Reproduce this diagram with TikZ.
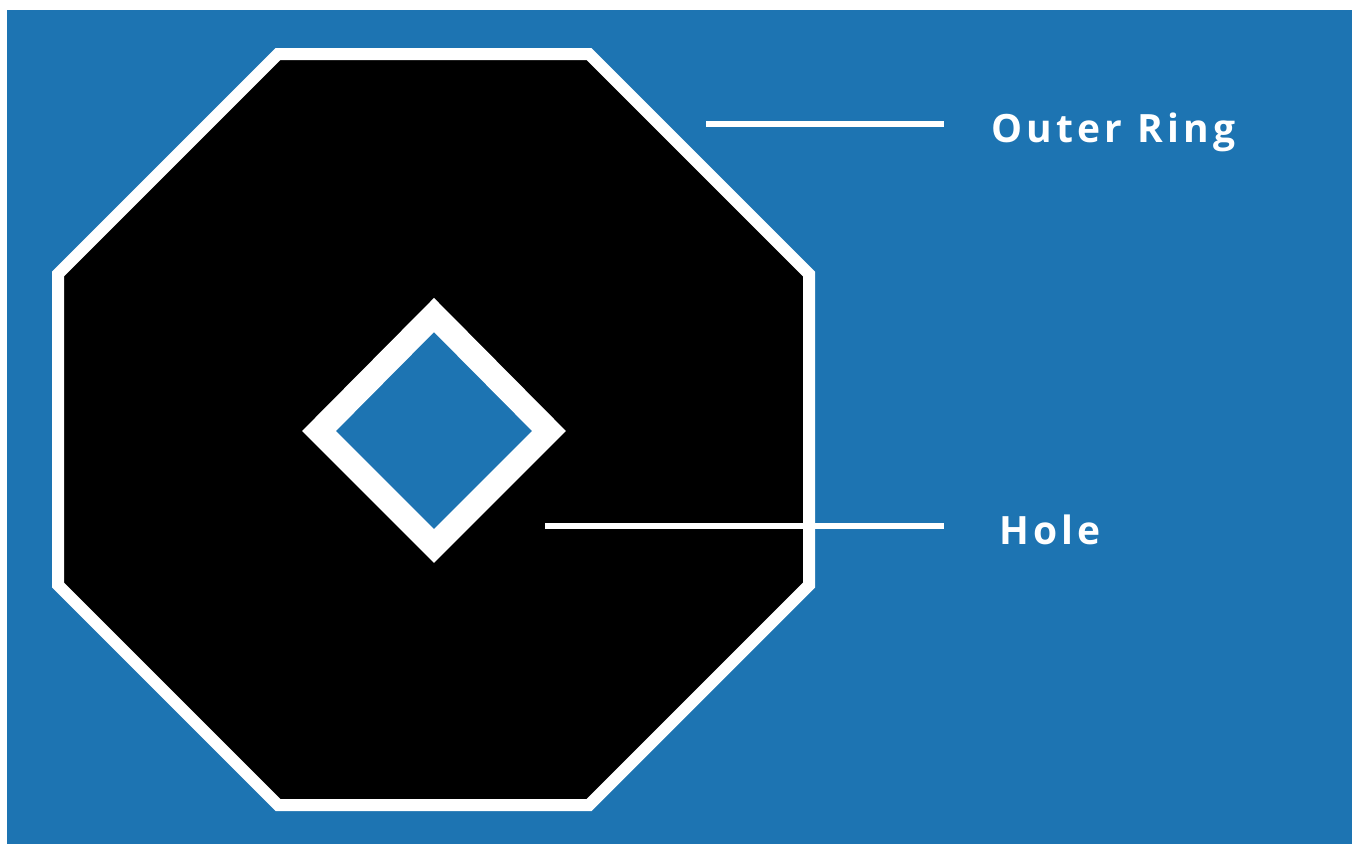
\documentclass[tikz,border=0pt]{standalone}
\usepackage{fontspec}
\setmainfont{Open Sans}
\newfontfamily\labelfont[LetterSpace=11]{Open Sans}
\definecolor{bgblue}{RGB}{29,116,178}
\tikzset{
  lbl/.style={text=white, anchor=base west, inner sep=0pt, font=\labelfont\bfseries\fontsize{39}{42}\selectfont},
  leader/.style={draw=white, line width=6pt},
}
\begin{document}
\begin{tikzpicture}[x=1pt,y=-1pt]
\useasboundingbox (0,0) rectangle (1352,844);
\fill[white] (0,0) rectangle (1352,844);
\fill[bgblue] (7,10) rectangle (1352,844);
% octagon
\filldraw[fill=black, draw=white, line width=12pt, miter limit=10]
  (278,54) -- (589,54) -- (809,274) -- (809,585) -- (589,805) -- (278,805) -- (58,585) -- (58,274) -- cycle;
% diamond hole
\filldraw[fill=bgblue, draw=white, line width=24pt, miter limit=10]
  (434,315) -- (549,431) -- (434,546) -- (319,431) -- cycle;
% labels
\node[lbl] (outer) at (991,142) {Outer Ring};
\node[lbl] (hole) at (999,544) {Hole};
\coordinate (o1) at (706,124);
\coordinate (o2) at (944,124);
\coordinate (h1) at (545,526);
\coordinate (h2) at (944,526);
\draw[leader] (o1) -- (o2);
\draw[leader] (h1) -- (h2);
\end{tikzpicture}
\end{document}
